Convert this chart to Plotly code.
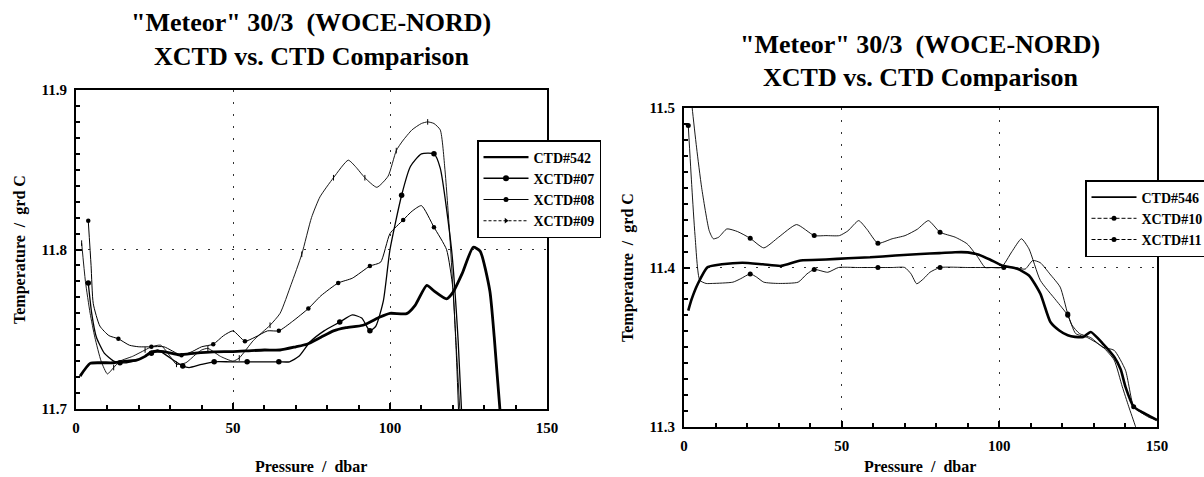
import plotly.graph_objects as go

# ---------------- data: left panel ("Meteor" 30/3, CTD#542 vs XCTD#07-09) ----------------
ctd542_p = [1.3, 4.5, 8, 12, 16, 19.3, 22, 24.1, 28, 33, 38, 43.7, 50, 55, 60, 65, 70, 73.5, 78, 82,
            86, 91.4, 96.8, 100, 105.3, 108, 111.7, 114, 118, 120.1, 123, 126.5, 128.7, 131.8, 133.2,
            135, 135.6]
ctd542_t = [11.7206, 11.7286, 11.729, 11.729, 11.730, 11.7306, 11.733, 11.7358, 11.736, 11.734, 11.735,
            11.7358, 11.736, 11.7365, 11.737, 11.737, 11.739, 11.7406, 11.745, 11.749, 11.751, 11.7525,
            11.7577, 11.760, 11.7598, 11.765, 11.7775, 11.774, 11.769, 11.7733, 11.785, 11.8014, 11.799,
            11.774, 11.745, 11.70, 11.69]

x07_p = [3.9, 5, 6.5, 9, 12, 14, 16, 20, 24, 26, 30, 34, 36, 40, 44, 49, 54.5, 60, 64.6, 68, 71, 74.5,
         79, 84, 88, 91, 93.6, 95.5, 97.9, 100, 103.7, 106.5, 110, 114, 116, 119.6, 121.7, 123]
x07_t = [11.779, 11.760, 11.745, 11.735, 11.730, 11.729, 11.729, 11.731, 11.735, 11.737, 11.732, 11.727,
         11.726, 11.728, 11.7296, 11.7296, 11.7296, 11.7296, 11.7296, 11.7296, 11.733, 11.742, 11.749,
         11.7545, 11.759, 11.757, 11.749, 11.752, 11.768, 11.800, 11.834, 11.852, 11.860, 11.860, 11.851,
         11.800, 11.743, 11.69]
x07_marks = [3.9, 14, 24, 34, 44, 54.5, 64.6, 84, 93.6, 103.7, 114]

x08_p = [3.9, 4.8, 5.5, 7.6, 10.5, 13.5, 17, 20, 24, 28, 33.6, 37, 40, 43.7, 47, 50, 53.8, 57, 61, 64.6,
         69, 74, 78, 83.5, 88, 93.6, 97, 100, 104.2, 107, 110, 114, 118, 120, 121, 122]
x08_t = [11.818, 11.790, 11.766, 11.752, 11.746, 11.744, 11.740, 11.739, 11.739, 11.739, 11.7337, 11.736,
         11.739, 11.7406, 11.746, 11.749, 11.7425, 11.745, 11.749, 11.749, 11.755, 11.763, 11.771, 11.779,
         11.782, 11.7896, 11.792, 11.810, 11.8185, 11.824, 11.8275, 11.814, 11.800, 11.776, 11.740, 11.69]
x08_marks = [3.9, 13.5, 24, 33.6, 43.7, 53.8, 64.6, 74, 83.5, 93.6, 104.2, 114]

x09_p = [1.8, 3, 4.5, 6, 8, 10, 12, 14, 18, 22, 24, 27, 30, 32, 35, 38, 40, 42, 46, 50, 52, 56.5, 61.8,
         65, 68.5, 71.9, 75, 77.7, 82, 86.7, 89, 92, 95.8, 99.4, 102, 104, 107, 110, 112, 114, 116, 117.5,
         119, 121, 122.5]
x09_t = [11.804, 11.780, 11.760, 11.745, 11.730, 11.722, 11.726, 11.730, 11.733, 11.737, 11.739, 11.740,
         11.733, 11.728, 11.729, 11.734, 11.737, 11.738, 11.733, 11.730, 11.732, 11.743, 11.7525, 11.760,
         11.778, 11.797, 11.820, 11.833, 11.845, 11.856, 11.852, 11.845, 11.839, 11.846, 11.862, 11.868,
         11.875, 11.879, 11.880, 11.879, 11.875, 11.850, 11.810, 11.743, 11.69]
x09_marks = [1.8, 12, 22, 32, 42, 52, 61.8, 71.9, 82, 92, 102, 112]

# ---------------- data: right panel (CTD#546 vs XCTD#10-11) ----------------
ctd546_p = [1.35, 2.4, 4.4, 7.5, 12, 18.5, 25, 30.8, 37, 45, 52, 59, 67, 75, 81, 86, 90, 93.5, 97, 100.8,
            105.7, 109.4, 113, 116.2, 119, 121.7, 124, 126.6, 129, 132.8, 136.4, 138.5, 140, 142.6, 145,
            147.5, 150]
ctd546_t = [11.373, 11.380, 11.3898, 11.4002, 11.402, 11.403, 11.402, 11.401, 11.4044, 11.405, 11.4058,
            11.4064, 11.4075, 11.4085, 11.409, 11.4096, 11.4095, 11.408, 11.405, 11.4013, 11.3992, 11.395,
            11.3836, 11.3658, 11.3605, 11.3575, 11.3565, 11.3564, 11.3596, 11.3523, 11.344, 11.336, 11.3252,
            11.3127, 11.3096, 11.307, 11.3044]

x10_p = [1.3, 2.6, 4, 5.6, 8, 9.3, 11, 13.6, 17, 21, 25.3, 30, 35.7, 41.3, 45, 49.3, 52, 55.4, 58, 61.5,
         66, 70.1, 74, 77.5, 81.2, 86, 89.8, 93, 95.5, 97.5, 100.6, 104, 107, 109.4, 113, 118, 121.7, 124.2,
         128, 132.8, 136.4, 139, 141, 143.2, 144]
x10_t = [11.53, 11.50, 11.475, 11.45, 11.423, 11.418, 11.419, 11.4242, 11.4225, 11.4183, 11.4123, 11.419,
         11.4269, 11.420, 11.420, 11.420, 11.423, 11.4294, 11.424, 11.4152, 11.418, 11.420, 11.424, 11.4294,
         11.4221, 11.419, 11.4148, 11.407, 11.400, 11.400, 11.400, 11.410, 11.418, 11.4117, 11.3919, 11.3794,
         11.370, 11.3586, 11.356, 11.3502, 11.342, 11.3252, 11.313, 11.3002, 11.295]
x10_marks = [21, 41.3, 61.5, 81.2, 121.7]

x11_p = [1.35, 2.5, 3.5, 5, 7, 9, 15.5, 18, 21, 23, 25.3, 30, 36.2, 39, 41.3, 45.6, 49, 55, 61.5, 66, 70,
         72, 73.8, 76, 78, 81.2, 90, 101.4, 105, 108.2, 110.6, 113, 116, 119.3, 121.7, 123, 125.4, 129,
         132.8, 136.4, 140, 142.6, 145, 147.5, 150]
x11_t = [11.489, 11.450, 11.420, 11.392, 11.390, 11.390, 11.3908, 11.393, 11.396, 11.394, 11.3908, 11.390,
         11.3908, 11.396, 11.3988, 11.397, 11.400, 11.400, 11.400, 11.400, 11.400, 11.396, 11.3898, 11.393,
         11.397, 11.400, 11.400, 11.400, 11.400, 11.399, 11.4044, 11.403, 11.396, 11.3877, 11.3708, 11.364,
         11.3586, 11.356, 11.350, 11.3481, 11.3356, 11.3127, 11.309, 11.306, 11.3044]
x11_marks = [1.35, 21, 41.3, 61.5, 81.2, 101.4, 121.7, 142.6]

x_ticks = [0, 50, 100, 150]
left_y_ticks = [11.7, 11.8, 11.9]
right_y_ticks = [11.3, 11.4, 11.5]

title_line1 = '"Meteor" 30/3  (WOCE-NORD)'
title_line2 = 'XCTD vs. CTD Comparison'
x_title = 'Pressure  /  dbar'
y_title = 'Temperature  /  grd C'

# ---------------- figure ----------------
W, H = 1204, 477
SERIF = "Liberation Serif"


def fx(px):
    return px / W


def fy(py):
    return 1 - py / H


fig = go.Figure()


def add_series(p, t, marks, xa, ya, width, msize, msymbol='circle'):
    fig.add_trace(go.Scatter(x=p, y=t, mode='lines', xaxis=xa, yaxis=ya, showlegend=False,
                             hoverinfo='skip',
                             line=dict(color='black', width=width, shape='spline', smoothing=0.55)))
    if marks:
        lookup = dict(zip(p, t))
        fig.add_trace(go.Scatter(x=marks, y=[lookup[m] for m in marks], mode='markers', xaxis=xa,
                                 yaxis=ya, showlegend=False, hoverinfo='skip',
                                 marker=dict(color='black', size=msize, symbol=msymbol)))


def add_legend_entry(name, legend, width, dash='solid', msize=0, msymbol='circle', xa='x', ya='y'):
    mode = 'lines+markers' if msize else 'lines'
    fig.add_trace(go.Scatter(x=[None], y=[None], mode=mode, name=name, legend=legend, xaxis=xa, yaxis=ya,
                             line=dict(color='black', width=width, dash=dash),
                             marker=dict(color='black', size=msize, symbol=msymbol)))


# left panel
add_series(ctd542_p, ctd542_t, None, 'x', 'y', 2.8, 0)
add_series(x07_p, x07_t, x07_marks, 'x', 'y', 1.3, 5.5)
add_series(x08_p, x08_t, x08_marks, 'x', 'y', 1.0, 4.5)
add_series(x09_p, x09_t, x09_marks, 'x', 'y', 0.9, 4, 'line-ns-open')

add_legend_entry('CTD#542', 'legend', 2.2)
add_legend_entry('XCTD#07', 'legend', 1.6, msize=6)
add_legend_entry('XCTD#08', 'legend', 1.1, msize=5)
add_legend_entry('XCTD#09', 'legend', 1.1, dash='3px,2px', msize=5, msymbol='triangle-right')

# right panel
add_series(ctd546_p, ctd546_t, None, 'x2', 'y2', 2.6, 0)
add_series(x10_p, x10_t, x10_marks, 'x2', 'y2', 0.9, 5)
add_series(x11_p, x11_t, x11_marks, 'x2', 'y2', 0.9, 5)

add_legend_entry('CTD#546', 'legend2', 1.6, xa='x2', ya='y2')
add_legend_entry('XCTD#10', 'legend2', 1.0, dash='4px,2px', msize=5, xa='x2', ya='y2')
add_legend_entry('XCTD#11', 'legend2', 1.0, dash='4px,2px', msize=5, xa='x2', ya='y2')

tickfont = dict(family=SERIF, size=15, color='black', weight='bold')
axis_common = dict(showline=True, linecolor='black', linewidth=2, mirror=True,
                   ticks='inside', ticklen=6, tickwidth=1.5, tickcolor='black',
                   showgrid=True, gridcolor='#333333', griddash='2px,10px', gridwidth=1,
                   zeroline=False, tickfont=tickfont, automargin=False, fixedrange=True,
                   ticklabelstandoff=4)
minor_x = dict(dtick=10, ticks='inside', ticklen=4, tickcolor='black', showgrid=False)
minor_y = dict(dtick=0.01, ticks='inside', ticklen=4, tickcolor='black', showgrid=False)
legend_font = dict(family=SERIF, size=14, color='black', weight='bold')

fig.update_layout(
    width=W, height=H,
    margin=dict(l=0, r=0, t=0, b=0, autoexpand=False),
    paper_bgcolor='white', plot_bgcolor='white',
    font=dict(family=SERIF, color='black'),
    xaxis=dict(axis_common, domain=[fx(76), fx(547)], range=[0, 150], tickvals=x_ticks,
               minor=minor_x, anchor='y'),
    yaxis=dict(axis_common, domain=[fy(409), fy(90)], range=[11.7, 11.9], tickvals=left_y_ticks,
               tickformat='.1f', minor=minor_y, anchor='x'),
    xaxis2=dict(axis_common, domain=[fx(684), fx(1157)], range=[0, 150], tickvals=x_ticks,
                minor=minor_x, anchor='y2'),
    yaxis2=dict(axis_common, domain=[fy(427), fy(108)], range=[11.3, 11.5], tickvals=right_y_ticks,
                tickformat='.1f', minor=minor_y, anchor='x2'),
    legend=dict(x=fx(477), y=fy(140), xanchor='left', yanchor='top', bgcolor='white',
                bordercolor='black', borderwidth=1.5, tracegroupgap=0, itemwidth=45,
                font=legend_font),
    legend2=dict(x=fx(1085), y=fy(180), xanchor='left', yanchor='top', bgcolor='white',
                 bordercolor='black', borderwidth=1.5, tracegroupgap=0, itemwidth=45,
                 font=legend_font),
    showlegend=True,
)

title_font = dict(family=SERIF, size=26, color='black', weight='bold')
axis_title_font = dict(family=SERIF, size=16, color='black', weight='bold')
annotations = [
    dict(text=title_line1, x=fx(311), y=fy(23), font=title_font),
    dict(text=title_line2, x=fx(311), y=fy(57), font=title_font),
    dict(text=title_line1, x=fx(920), y=fy(45), font=title_font),
    dict(text=title_line2, x=fx(920), y=fy(78), font=title_font),
    dict(text=x_title, x=fx(311), y=fy(466), font=axis_title_font),
    dict(text=x_title, x=fx(920), y=fy(466), font=axis_title_font),
    dict(text=y_title, x=fx(20), y=fy(250), font=axis_title_font, textangle=-90),
    dict(text=y_title, x=fx(628), y=fy(268), font=axis_title_font, textangle=-90),
]
for a in annotations:
    fig.add_annotation(xref='paper', yref='paper', showarrow=False, xanchor='center', yanchor='middle', **a)

fig.write_html("out.html", post_script="document.body.style.margin='0';",
               config={'displayModeBar': False})
